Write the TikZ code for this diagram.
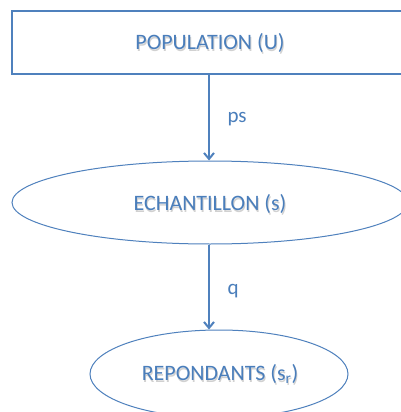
\documentclass[tikz,border=0pt]{standalone}
\usepackage{fontspec}
\setmainfont{Carlito}
\usetikzlibrary{shapes.geometric,arrows.meta}
\definecolor{officeblue}{HTML}{4F81BD}
\definecolor{labelblue}{HTML}{4A7EBB}
% caption text with a faint drop shadow set behind it
\newcommand\dropshade[1]{\leavevmode\rlap{\kern0.9pt\raisebox{-1.4pt}{\color{black!18}#1}}#1}
\begin{document}
\begin{tikzpicture}[x=1pt,y=-1pt,
  box/.style={draw=officeblue,line width=1.3pt,fill=white,minimum width=396pt,minimum height=63pt,inner sep=0pt},
  oval/.style={ellipse,draw=officeblue,line width=1pt,fill=white,inner sep=0pt},
  caption/.style={text=labelblue,font=\fontsize{22}{26}\selectfont},
  flow/.style={draw=officeblue,line width=2pt,-{Straight Barb[length=6pt,width=10pt,line width=2pt]}},
  tag/.style={text=labelblue,font=\fontsize{21}{24}\selectfont,anchor=west}]
  \useasboundingbox (0,0) rectangle (401,412);
  \clip (0,0) rectangle (401,412);
  \fill[white] (0,0) rectangle (401,412);
  % population frame
  \node[box] (pop) at (210,42.5) {};
  \node[caption] (poptext) at (210,44) {\dropshade{POPULATION (U)}};
  % sample
  \node[oval,minimum width=396pt,minimum height=83pt] (ech) at (210,202.5) {};
  \node[caption] (echtext) at (210,205) {\dropshade{ECHANTILLON (s)}};
  % respondents
  \node[oval,minimum width=258pt,minimum height=88pt] (rep) at (219,374) {};
  \node[caption] (reptext) at (220,375) {\dropshade{REPONDANTS (s\textsubscript{r})}};
  % arrows
  \draw[flow] (pop.south -| 209,0) -- (ech.north -| 209,0);
  \draw[flow] (ech.south -| 209,0) -- (rep.north -| 209,0);
  \node[tag] (ps) at (224,119) {ps};
  \node[tag] (q) at (224,291) {q};
\end{tikzpicture}
\end{document}
